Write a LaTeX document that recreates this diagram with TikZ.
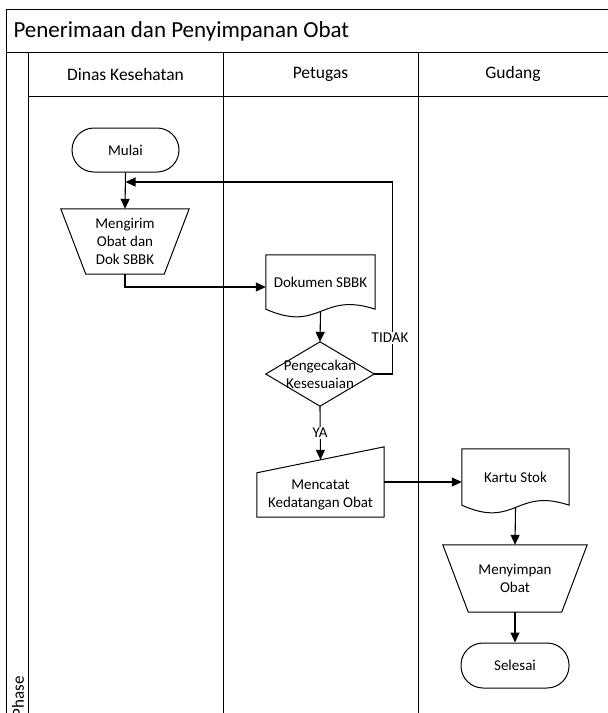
\documentclass[tikz,border=0pt]{standalone}
\usepackage{fontspec}
\setmainfont{Carlito}
\usetikzlibrary{arrows.meta,calc}
\begin{document}
\begin{tikzpicture}[x=1pt,y=-1pt,
  line/.style={line width=1pt, black},
  flow/.style={line width=1.1pt, -{Triangle[length=10pt,width=9pt]}},
  box/.style={draw=none, inner sep=0pt, align=center, font=\fontsize{15}{18}\selectfont},
  terminal/.style={box, draw, line width=1pt, rounded corners=22pt},
  tag/.style={fill=white, inner sep=1pt, font=\fontsize{15}{18}\selectfont},
  lanehead/.style={font=\fontsize{17.5}{21}\selectfont},
]
\useasboundingbox (0,0) rectangle (608,713);
\clip (0,0) rectangle (608,713);

% pool frame, title bar, lane headers and dividers
\draw[line] (6,720) -- (6,9) -- (615,9);
\draw[line] (6,52) -- (615,52);
\draw[line] (28,52) -- (28,720);
\draw[line] (28,96) -- (615,96);
\draw[line] (223,52) -- (223,720);
\draw[line] (418,52) -- (418,720);

\node[anchor=west, font=\fontsize{23}{28}\selectfont] (title) at (10,31) {Penerimaan dan Penyimpanan Obat};
\node[lanehead] (laneA) at (125.5,74) {Dinas Kesehatan};
\node[lanehead] (laneB) at (320.5,74) {Petugas};
\node[lanehead] (laneC) at (513,74) {Gudang};
\node[rotate=90, font=\fontsize{17}{20}\selectfont] (phase) at (18,697) {Phase};

% Dinas Kesehatan
\node[terminal, minimum width=107pt, minimum height=44pt] (mulai) at (125.5,150) {Mulai};
\node[box, minimum width=128pt, minimum height=65pt] (mengirim) at (125,241.5) {Mengirim\\Obat dan\\Dok SBBK};
\draw[line] (mengirim.north west) -- (mengirim.north east) -- ($(mengirim.south east)+(-25,0)$) -- ($(mengirim.south west)+(25,0)$) -- cycle;

% Petugas
\node[box, minimum width=109pt, minimum height=54pt] (doc) at (320.5,282) {Dokumen SBBK};
\draw[line] (doc.south west) -- (doc.north west) -- (doc.north east) -- (doc.south east)
  .. controls ($(doc.south)+(0,-18)$) and ($(doc.south)+(0,24)$) .. (doc.south west) -- cycle;

\node[box, minimum width=108pt, minimum height=64pt] (check) at (320,374) {Pengecakan\\Kesesuaian};
\draw[line] (check.north) -- (check.east) -- (check.south) -- (check.west) -- cycle;

\node[box, minimum width=127pt, minimum height=44pt] (catat) at (320.5,495) {Mencatat\\Kedatangan Obat};
\draw[line] (catat.south west) -- (catat.south east) -- ($(catat.north east)+(0,-26)$) -- (catat.north west) -- cycle;

% Gudang
\node[box, minimum width=107pt, minimum height=56pt] (kartu) at (515.5,477) {Kartu Stok};
\draw[line] (kartu.south west) -- (kartu.north west) -- (kartu.north east) -- (kartu.south east)
  .. controls ($(kartu.south)+(0,-18)$) and ($(kartu.south)+(0,24)$) .. (kartu.south west) -- cycle;

\node[box, minimum width=144pt, minimum height=67pt] (simpan) at (515,578.5) {Menyimpan\\Obat};
\draw[line] (simpan.north west) -- (simpan.north east) -- ($(simpan.south east)+(-25.5,0)$) -- ($(simpan.south west)+(25.5,0)$) -- cycle;

\node[terminal, minimum width=108pt, minimum height=45pt] (selesai) at (515,665.5) {Selesai};

% connectors
\coordinate (merge) at (125.5,182);
\draw[flow] (mulai.south) -- (mengirim.north);
\draw[flow] (mengirim.south) |- ($(doc.west)+(0,5)$);
\draw[flow] ($(doc.south)+(0,3)$) -- (check.north);
\draw[flow] (check.east) -- ++(18,0) |- (merge);
\node[tag] (tidak) at (390,338) {TIDAK};
\draw[flow] (check.south) -- ($(catat.north)+(0,-13)$);
\node[tag] (ya) at (320,433) {YA};
\draw[flow] ($(catat.east)+(0,-13)$) -- ($(kartu.west)+(0,5)$);
\draw[flow] ($(kartu.south)+(0,3)$) -- (simpan.north);
\draw[flow] (simpan.south) -- (selesai.north);
\end{tikzpicture}
\end{document}
